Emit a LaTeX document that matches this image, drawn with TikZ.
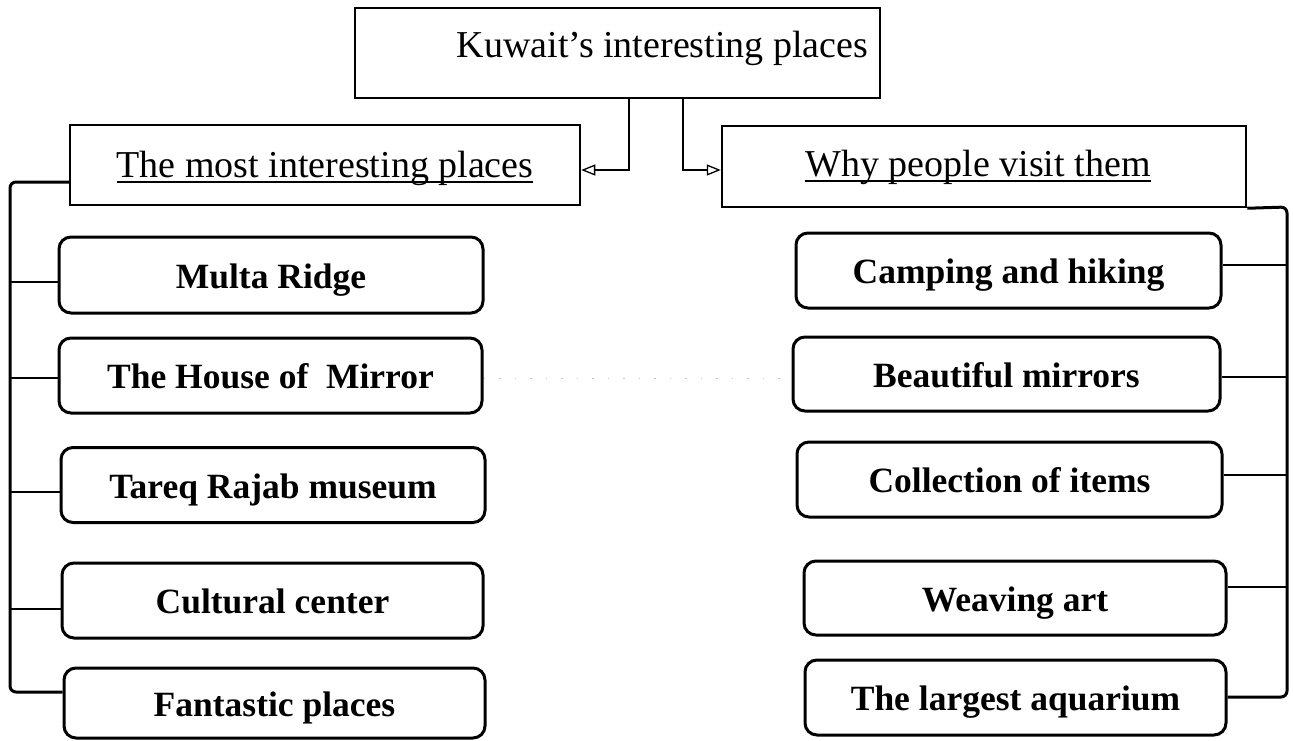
\documentclass[tikz,border=0pt]{standalone}
\usepackage{fontspec}
\setmainfont{Liberation Serif}
\usetikzlibrary{arrows.meta}
\newcommand\myul[1]{\setbox0=\hbox{#1}\rlap{\rule[-5.5pt]{\wd0}{1.8pt}}\box0}
\tikzset{
  headbox/.style={draw, line width=2.5pt, inner sep=0pt, text height=26pt, text depth=2pt,
    font=\fontsize{38}{40}\selectfont},
  itembox/.style={draw, line width=3pt, rounded corners=12pt, inner sep=0pt,
    text height=26pt, text depth=0pt, font=\bfseries\fontsize{35.5}{38}\selectfont},
  bracket/.style={line width=3pt, rounded corners=6pt},
  tick/.style={line width=1.3pt},
  link/.style={line width=1.3pt, -{Triangle[open, length=14pt, width=11pt, line width=1.3pt]}},
}
\begin{document}
\begin{tikzpicture}[x=1pt,y=-1pt]
\useasboundingbox (0,0) rectangle (1293,740);
% title and headers
\node[headbox, text height=26pt, text depth=18pt, minimum width=525pt, minimum height=90pt] (title) at (617.5,53) {\hspace{90pt}Kuwait's interesting places};
\node[headbox, minimum width=510pt, minimum height=80pt] (lhead) at (325,165) {\myul{The most interesting places}};
\node[headbox, text depth=6pt, minimum width=524pt, minimum height=81pt] (rhead) at (984,166.5) {\hspace{-12pt}\myul{Why people visit them}};
% title connectors
\coordinate (tl) at (629,98);
\coordinate (tr) at (683,98);
\draw[link] (tl) |- (lhead.east |- 0,170);
\draw[link] (tr) |- (rhead.west |- 0,170);
% left items
\node[itembox, minimum width=424pt, minimum height=76pt] (multa) at (271,275) {Multa Ridge};
\node[itembox, minimum width=423pt, minimum height=75pt] (house) at (270.5,375.5) {The House of\ \ Mirror};
\node[itembox, minimum width=424pt, minimum height=75pt] (tareq) at (273,485) {Tareq Rajab museum};
\node[itembox, minimum width=421pt, minimum height=75pt] (cult) at (272.5,600.5) {Cultural center};
\node[itembox, minimum width=421pt, minimum height=70pt] (fant) at (274.5,703) {Fantastic places};
% right items
\node[itembox, minimum width=425pt, minimum height=75pt] (camp) at (1008.5,270.5) {Camping and hiking};
\node[itembox, minimum width=427pt, minimum height=74pt] (beau) at (1006.5,374) {Beautiful mirrors};
\node[itembox, minimum width=425pt, minimum height=75pt] (coll) at (1009.5,479.5) {Collection of items};
\node[itembox, minimum width=422pt, minimum height=74pt] (weav) at (1015,598) {Weaving art};
\node[itembox, minimum width=421pt, minimum height=75pt] (aqua) at (1015.5,697.5) {The largest aquarium};
% left bracket
\coordinate (lb1) at (10,182);
\coordinate (lb2) at (10,692);
\draw[bracket] (lhead.west |- lb1) -- (lb1) -- (lb2) -- (lb2 -| fant.west);
\foreach \y/\n in {282/multa, 378/house, 492/tareq, 609/cult}{
  \coordinate (lt\n) at (10,\y);
  \draw[tick] (lt\n) -- (lt\n -| \n.west);
}
% right bracket
\coordinate (rb1) at (1287,207);
\coordinate (rb2) at (1287,697);
\draw[bracket] (rhead.south east) -- (rb1) -- (rb2) -- (rb2 -| aqua.east);
\foreach \y/\n in {265/camp, 377/beau, 475/coll, 587/weav}{
  \coordinate (rt\n) at (1287,\y);
  \draw[tick] (rt\n) -- (rt\n -| \n.east);
}
% faint dotted link
\draw[gray!45, line width=1pt, dash pattern=on 1.5pt off 14pt] (house.east |- 0,378) -- (beau.west |- 0,378);
\end{tikzpicture}
\end{document}
